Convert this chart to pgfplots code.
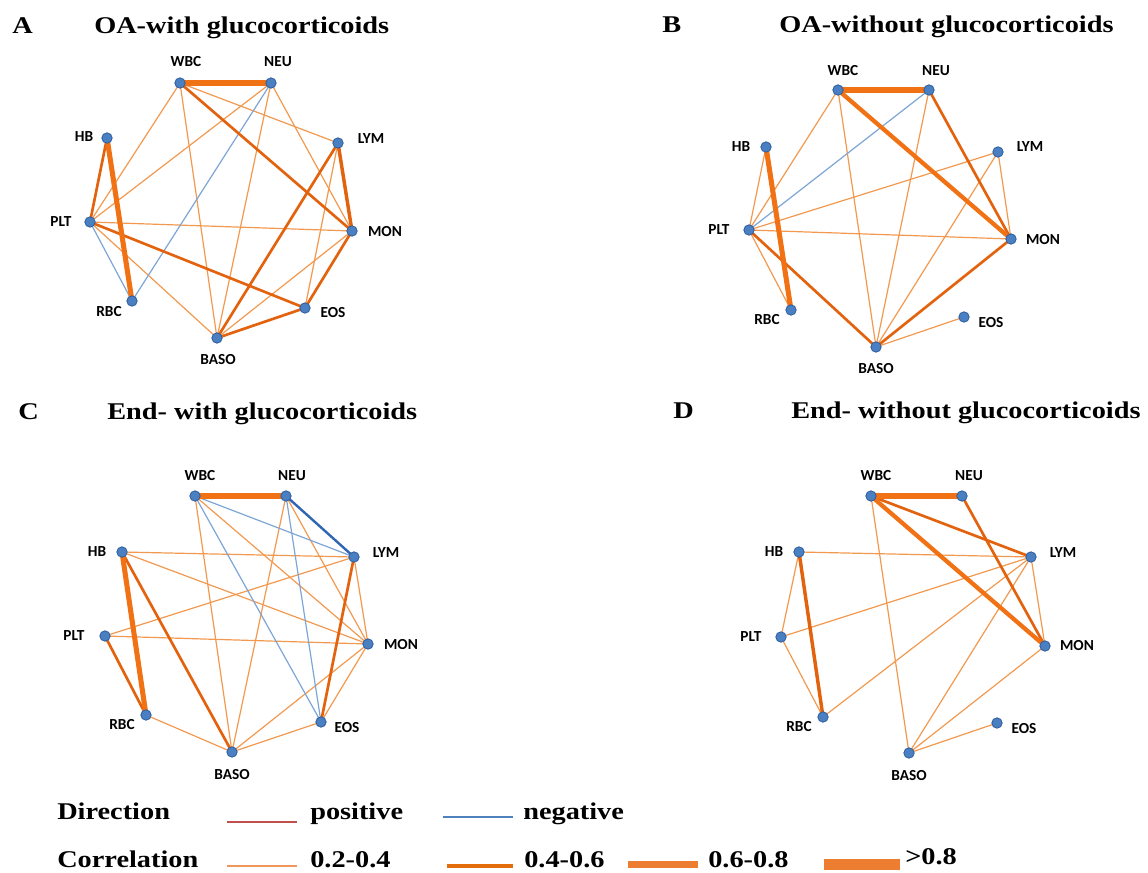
\documentclass[border=0pt]{standalone}
\usepackage{pgfplots}
\pgfplotsset{compat=1.18}
\usepackage{graphicx}
\usepackage{fontspec}
\setmainfont{Liberation Serif}
\newfontfamily\lab{Carlito}
\definecolor{eo1}{HTML}{F2994F}
\definecolor{eo2}{HTML}{E3620E}
\definecolor{eo3}{HTML}{F07214}
\definecolor{eb1}{HTML}{7DA5D5}
\definecolor{eb2}{HTML}{2F66B3}
\definecolor{nfill}{HTML}{4A7FC1}
\definecolor{ndraw}{HTML}{2E5E9E}
\definecolor{lpos}{HTML}{C0504D}
\definecolor{lneg}{HTML}{4F81BD}
\definecolor{lo1}{HTML}{F0965A}
\definecolor{lo2}{HTML}{E46C0A}
\definecolor{lbar}{HTML}{ED7D31}
\tikzset{
  e1/.style={color=eo1, line width=0.9pt},
  e2/.style={color=eo2, line width=2pt},
  e2b/.style={color=eo2, line width=2.6pt},
  e3/.style={color=eo3, line width=3.8pt},
  e3b/.style={color=eo3, line width=3.2pt},
  n1/.style={color=eb1, line width=0.9pt},
  n2/.style={color=eb2, line width=1.8pt},
  nl/.style={font=\lab\fontsize{11.5}{12}\selectfont\bfseries, text=black, inner sep=0pt, anchor=center},
}
\newcommand\ttl[1]{\scalebox{1.18}[1]{\fontsize{18}{19}\selectfont\bfseries #1}}
\begin{document}
\begin{tikzpicture}
\useasboundingbox (0,0) rectangle (861pt,654.75pt);
\begin{axis}[at={(0,0)}, anchor=south west, width=861pt, height=654.75pt,
  scale only axis, hide axis, xmin=0, xmax=1148, ymin=0, ymax=873,
  y dir=reverse, clip=false]
% ---------- Panel A ----------
\addplot[e1] coordinates {(180,83)(90,222)};
\addplot[e1] coordinates {(180,83)(217,338)};
\addplot[e1] coordinates {(180,83)(338,143)};
\addplot[e1] coordinates {(271,83)(90,222)};
\addplot[e1] coordinates {(271,83)(217,338)};
\addplot[e1] coordinates {(271,83)(352,231)};
\addplot[e1] coordinates {(338,143)(305,308)};
\addplot[e1] coordinates {(90,222)(352,231)};
\addplot[e1] coordinates {(90,222)(217,338)};
\addplot[e1] coordinates {(352,231)(217,338)};
\addplot[n1] coordinates {(271,83)(132,301)};
\addplot[n1] coordinates {(90,222)(132,301)};
\addplot[e2] coordinates {(180,83)(352,231)};
\addplot[e2b] coordinates {(338,143)(352,231)};
\addplot[e2] coordinates {(338,143)(217,338)};
\addplot[e2] coordinates {(107,138)(90,222)};
\addplot[e2] coordinates {(90,222)(305,308)};
\addplot[e2] coordinates {(352,231)(305,308)};
\addplot[e2] coordinates {(217,338)(305,308)};
\addplot[e3] coordinates {(180,83)(271,83)};
\addplot[e3] coordinates {(107,138)(132,301)};
% ---------- Panel B ----------
\addplot[e1] coordinates {(838,90)(749,230)};
\addplot[e1] coordinates {(838,90)(876,347)};
\addplot[e1] coordinates {(929,90)(876,347)};
\addplot[e1] coordinates {(998,152)(749,230)};
\addplot[e1] coordinates {(998,152)(1011,239)};
\addplot[e1] coordinates {(998,152)(876,347)};
\addplot[e1] coordinates {(766,147)(749,230)};
\addplot[e1] coordinates {(749,230)(1011,239)};
\addplot[e1] coordinates {(749,230)(791,310)};
\addplot[e1] coordinates {(876,347)(964,317)};
\addplot[n1] coordinates {(929,90)(749,230)};
\addplot[e2] coordinates {(929,90)(1011,239)};
\addplot[e2] coordinates {(749,230)(876,347)};
\addplot[e2] coordinates {(1011,239)(876,347)};
\addplot[e3b] coordinates {(838,90)(1011,239)};
\addplot[e3] coordinates {(838,90)(929,90)};
\addplot[e3] coordinates {(766,147)(791,310)};
% ---------- Panel C ----------
\addplot[e1] coordinates {(195,496)(368,644)};
\addplot[e1] coordinates {(195,496)(232,752)};
\addplot[e1] coordinates {(286,496)(368,644)};
\addplot[e1] coordinates {(286,496)(232,752)};
\addplot[e1] coordinates {(122,552)(354,557)};
\addplot[e1] coordinates {(122,552)(368,644)};
\addplot[e1] coordinates {(105,636)(354,557)};
\addplot[e1] coordinates {(105,636)(368,644)};
\addplot[e1] coordinates {(354,557)(368,644)};
\addplot[e1] coordinates {(368,644)(232,752)};
\addplot[e1] coordinates {(368,644)(321,722)};
\addplot[e1] coordinates {(146,715)(232,752)};
\addplot[e1] coordinates {(232,752)(321,722)};
\addplot[n1] coordinates {(195,496)(354,557)};
\addplot[n1] coordinates {(195,496)(321,722)};
\addplot[n1] coordinates {(286,496)(321,722)};
\addplot[n2] coordinates {(286,496)(354,557)};
\addplot[e2] coordinates {(122,552)(232,752)};
\addplot[e2] coordinates {(105,636)(146,715)};
\addplot[e2] coordinates {(354,557)(321,722)};
\addplot[e3] coordinates {(195,496)(286,496)};
\addplot[e3] coordinates {(122,552)(146,715)};
% ---------- Panel D ----------
\addplot[e1] coordinates {(871,496)(909,753)};
\addplot[e1] coordinates {(799,552)(1031,557)};
\addplot[e1] coordinates {(799,552)(781,637)};
\addplot[e1] coordinates {(781,637)(1031,557)};
\addplot[e1] coordinates {(781,637)(823,717)};
\addplot[e1] coordinates {(823,717)(1031,557)};
\addplot[e1] coordinates {(1031,557)(1045,646)};
\addplot[e1] coordinates {(1031,557)(909,753)};
\addplot[e1] coordinates {(1045,646)(909,753)};
\addplot[e1] coordinates {(909,753)(997,723)};
\addplot[e2] coordinates {(871,496)(1031,557)};
\addplot[e2] coordinates {(962,496)(1045,646)};
\addplot[e2b] coordinates {(799,552)(823,717)};
\addplot[e3b] coordinates {(871,496)(1045,646)};
\addplot[e3] coordinates {(871,496)(962,496)};
% ---------- Nodes ----------
\addplot[only marks, mark=*, mark size=3.9pt, mark options={fill=nfill, draw=ndraw, line width=0.6pt}] coordinates {
(180,83)(271,83)(338,143)(352,231)(305,308)(217,338)(132,301)(90,222)(107,138)
(838,90)(929,90)(998,152)(1011,239)(964,317)(876,347)(791,310)(749,230)(766,147)
(195,496)(286,496)(354,557)(368,644)(321,722)(232,752)(146,715)(105,636)(122,552)
(871,496)(962,496)(1031,557)(1045,646)(997,723)(909,753)(823,717)(781,637)(799,552)};
% ---------- Node labels ----------
\node[nl] at (axis cs:186,62) {WBC};
\node[nl] at (axis cs:278,62) {NEU};
\node[nl] at (axis cs:371,139) {LYM};
\node[nl] at (axis cs:385,232) {MON};
\node[nl] at (axis cs:333,313) {EOS};
\node[nl] at (axis cs:218,360) {BASO};
\node[nl] at (axis cs:109,312) {RBC};
\node[nl] at (axis cs:61,222) {PLT};
\node[nl] at (axis cs:84,137) {HB};
\node[nl] at (axis cs:843,71) {WBC};
\node[nl] at (axis cs:936,71) {NEU};
\node[nl] at (axis cs:1030,147) {LYM};
\node[nl] at (axis cs:1043,240) {MON};
\node[nl] at (axis cs:991,323) {EOS};
\node[nl] at (axis cs:876,369) {BASO};
\node[nl] at (axis cs:767,320) {RBC};
\node[nl] at (axis cs:719,230) {PLT};
\node[nl] at (axis cs:741,147) {HB};
\node[nl] at (axis cs:200,476) {WBC};
\node[nl] at (axis cs:292,476) {NEU};
\node[nl] at (axis cs:386,553) {LYM};
\node[nl] at (axis cs:401,645) {MON};
\node[nl] at (axis cs:347,728) {EOS};
\node[nl] at (axis cs:232,775) {BASO};
\node[nl] at (axis cs:122,725) {RBC};
\node[nl] at (axis cs:74,636) {PLT};
\node[nl] at (axis cs:97,552) {HB};
\node[nl] at (axis cs:876,476) {WBC};
\node[nl] at (axis cs:969,476) {NEU};
\node[nl] at (axis cs:1063,553) {LYM};
\node[nl] at (axis cs:1077,646) {MON};
\node[nl] at (axis cs:1024,729) {EOS};
\node[nl] at (axis cs:909,776) {BASO};
\node[nl] at (axis cs:799,727) {RBC};
\node[nl] at (axis cs:751,637) {PLT};
\node[nl] at (axis cs:774,552) {HB};
% ---------- Titles ----------
\node[anchor=base west, inner sep=0pt] at (axis cs:12,34) {\ttl{A}};
\node[anchor=base west, inner sep=0pt] at (axis cs:94,34) {\ttl{OA-with glucocorticoids}};
\node[anchor=base west, inner sep=0pt] at (axis cs:662,33) {\ttl{B}};
\node[anchor=base west, inner sep=0pt] at (axis cs:779,33) {\ttl{OA-without glucocorticoids}};
\node[anchor=base west, inner sep=0pt] at (axis cs:18,419) {\ttl{C}};
\node[anchor=base west, inner sep=0pt] at (axis cs:107,419) {\ttl{End- with glucocorticoids}};
\node[anchor=base west, inner sep=0pt] at (axis cs:673,418) {\ttl{D}};
\node[anchor=base west, inner sep=0pt] at (axis cs:791,418) {\ttl{End- without glucocorticoids}};
% ---------- Legend ----------
\addplot[color=lpos, line width=1pt] coordinates {(227,822)(297,822)};
\addplot[color=lneg, line width=1pt] coordinates {(443,817)(513,817)};
\addplot[color=lo1, line width=1pt] coordinates {(227,866)(297,866)};
\addplot[color=lo2, line width=2.4pt] coordinates {(447,866)(513,866)};
\addplot[color=lbar, line width=5.2pt, line cap=butt] coordinates {(628,864.5)(698,864.5)};
\addplot[color=lbar, line width=8.2pt, line cap=butt] coordinates {(824,864.5)(900,864.5)};
\node[anchor=base west, inner sep=0pt] at (axis cs:57,819) {\ttl{Direction}};
\node[anchor=base west, inner sep=0pt] at (axis cs:310,819) {\ttl{positive}};
\node[anchor=base west, inner sep=0pt] at (axis cs:523,819) {\ttl{negative}};
\node[anchor=base west, inner sep=0pt] at (axis cs:57,867) {\ttl{Correlation}};
\node[anchor=base west, inner sep=0pt] at (axis cs:310,867) {\ttl{0.2-0.4}};
\node[anchor=base west, inner sep=0pt] at (axis cs:524,867) {\ttl{0.4-0.6}};
\node[anchor=base west, inner sep=0pt] at (axis cs:708,867) {\ttl{0.6-0.8}};
\node[anchor=base west, inner sep=0pt] at (axis cs:905,864) {\ttl{>0.8}};
\end{axis}
\end{tikzpicture}
\end{document}
